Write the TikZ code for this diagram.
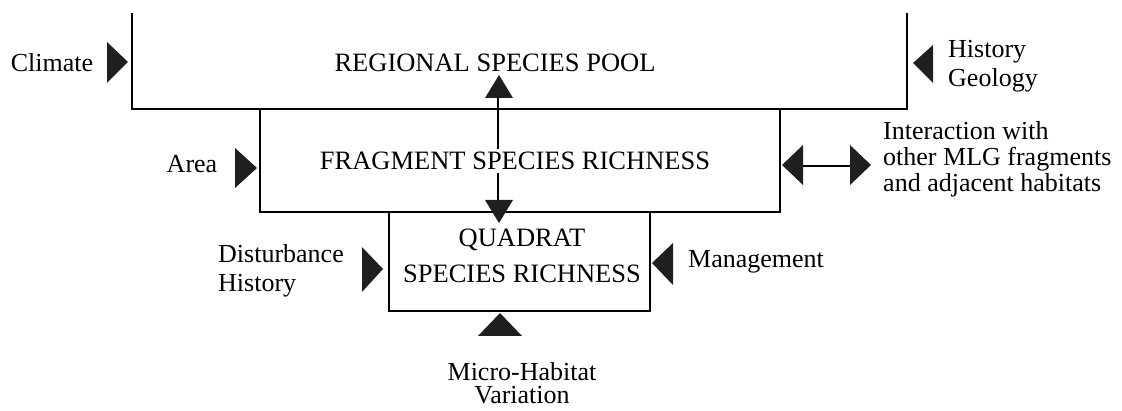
\documentclass[tikz,border=0pt]{standalone}
\usepackage{fontspec}
\setmainfont{Liberation Serif}
\begin{document}
\begin{tikzpicture}[x=1pt,y=-1pt,
  lab/.style={inner sep=0pt, font=\fontsize{26}{26}\selectfont},
  ttl/.style={inner sep=0pt, font=\fontsize{26.5}{29}\selectfont},
  boxline/.style={line width=1.6pt, line join=miter},
  tri/.style={fill=black!88, draw=none},
  link/.style={line width=1.8pt}]
\useasboundingbox (0,0) rectangle (1122,411);
% box outlines
\draw[boxline] (132,13) -- (132,109) -- (907,109) -- (907,13);
\draw[boxline] (260,109) -- (260,212) -- (780,212) -- (780,109);
\draw[boxline] (389,212) -- (389,311) -- (650,311) -- (650,212);
% vertical double connector
\coordinate (upbase) at (498,98);
\coordinate (dnbase) at (498,200);
\draw[link] (upbase) -- (dnbase);
\fill[tri] (485,98) -- (499,75) -- (513,98) -- cycle;
\fill[tri] (485,200) -- (499,223) -- (513,200) -- cycle;
% box titles
\node[ttl, anchor=base] (reg) at (495,72) {REGIONAL SPECIES POOL};
\node[ttl, anchor=base, fill=white, inner xsep=0pt, inner ysep=3pt] (frag) at (515,170) {FRAGMENT SPECIES RICHNESS};
\node[ttl, anchor=base, align=center, font=\fontsize{26.5}{36}\selectfont] (quad) at (522,283) {QUADRAT\\SPECIES RICHNESS};
% labels
\node[lab, anchor=base] (climate) at (52,72) {Climate};
\node[lab, anchor=base] (area) at (192,173) {Area};
\node[lab, anchor=base west, align=left, font=\fontsize{26}{29}\selectfont] (hist) at (948,87) {History\\Geology};
\node[lab, anchor=base west, align=left] (inter) at (883,192) {Interaction with\\other MLG fragments\\and adjacent habitats};
\node[lab, anchor=base west, align=left, font=\fontsize{26}{29}\selectfont] (dist) at (218,292) {Disturbance\\History};
\node[lab, anchor=base west] (mgmt) at (688,268) {Management};
\node[lab, anchor=base, align=center, font=\fontsize{26}{24}\selectfont] (micro) at (522,404) {Micro-Habitat\\Variation};
% input triangles
\fill[tri] (107,42) -- (128,62) -- (107,83) -- cycle;
\fill[tri] (235,148) -- (257,168) -- (235,188) -- cycle;
\fill[tri] (933,45) -- (913,63) -- (933,83) -- cycle;
\fill[tri] (362,247) -- (383,269) -- (362,292) -- cycle;
\fill[tri] (673,243) -- (652,263) -- (673,285) -- cycle;
\fill[tri] (478,336) -- (500,313) -- (522,336) -- cycle;
% horizontal double connector
\coordinate (hl) at (803,166);
\coordinate (hr) at (850,166);
\draw[link] (hl) -- (hr);
\fill[tri] (803,145) -- (782,165) -- (803,185) -- cycle;
\fill[tri] (850,145) -- (871,165) -- (850,185) -- cycle;
\end{tikzpicture}
\end{document}
